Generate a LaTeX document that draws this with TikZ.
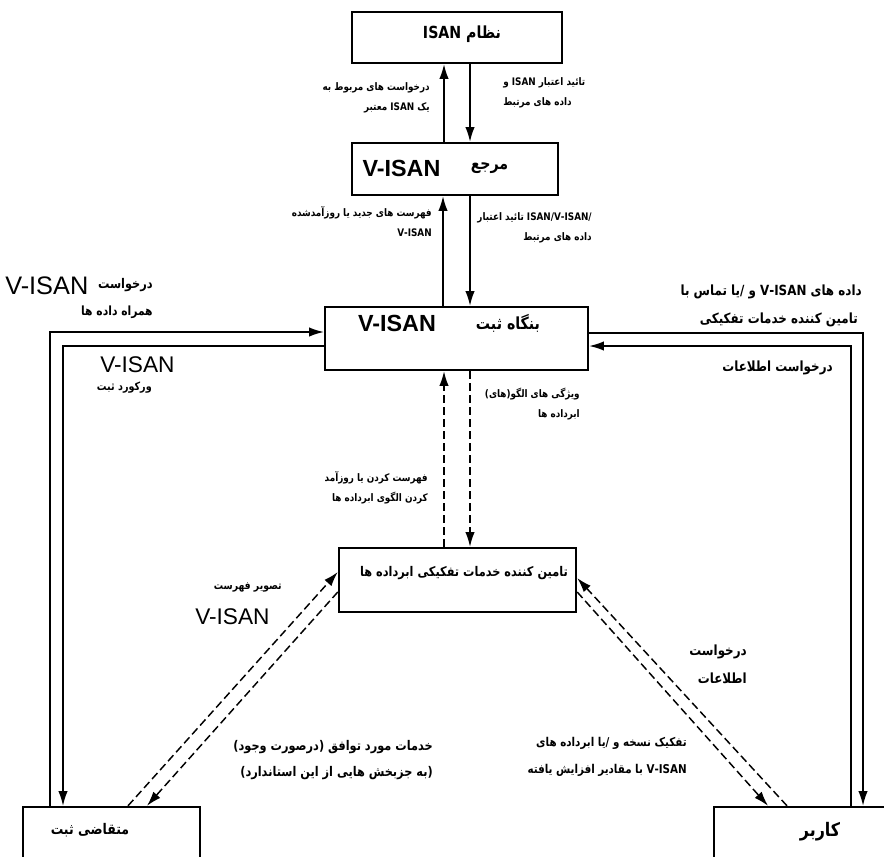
\documentclass[tikz,border=0pt]{standalone}
\usepackage{fontspec}
\newfontfamily\fa[Script=Arabic, FakeStretch=0.85]{DejaVu Sans}
\newfontfamily\lat{Liberation Sans}
\TeXXeTstate=1
\usetikzlibrary{arrows.meta}
\newcommand{\fatxt}[1]{{\beginR #1\endR}}
\tikzset{
  box/.style={draw, line width=1.8pt, inner sep=0pt},
  con/.style={line width=1.1pt},
  arr/.style={-{Latex[length=11pt,width=7pt]}},
  dashline/.style={dash pattern=on 6pt off 3pt},
  lbl/.style={inner sep=0pt, font=\fa\bfseries\fontsize{7.8}{15}\selectfont},
  lblm/.style={inner sep=0pt, font=\fa\bfseries\fontsize{10.5}{21}\selectfont},
  boxlbl/.style={inner sep=0pt, font=\fa\bfseries\fontsize{12.5}{14}\selectfont},
  latb/.style={inner sep=0pt, font=\lat\bfseries\fontsize{17.5}{19}\selectfont},
  latbig/.style={inner sep=0pt, font=\lat\fontsize{17}{19}\selectfont},
}
\begin{document}
\begin{tikzpicture}[x=0.75pt,y=0.75pt,yscale=-1,xscale=1]
\useasboundingbox (0,0) rectangle (884,856);

%Shape: Rectangle
\node[box, minimum width=157.5pt, minimum height=38.25pt] (isan) at (457,37.5) {};
%Shape: Rectangle
\node[box, minimum width=154.5pt, minimum height=39pt] (ref) at (455,169) {};
%Shape: Rectangle
\node[box, minimum width=197.25pt, minimum height=47.25pt] (reg) at (456.5,338.5) {};
%Shape: Rectangle
\node[box, minimum width=177.75pt, minimum height=48pt] (meta) at (457.5,580) {};
%Shape: Rectangle
\node[box, minimum width=132.75pt, minimum height=60pt] (req) at (111.5,847) {};
%Shape: Rectangle
\node[box, minimum width=150pt, minimum height=60pt] (user) at (814,847) {};

% Text Node
\node[boxlbl] (isantxt) at (462,34) {\fatxt{نظام ISAN}};
% Text Node
\node[latb] (refv) at (401.5,168) {V-ISAN};
% Text Node
\node[boxlbl] (reffa) at (489.5,168) {\fatxt{مرجع}};
% Text Node
\node[latb] (regv) at (397,323) {V-ISAN};
% Text Node
\node[boxlbl] (regfa) at (508,323) {\fatxt{بنگاه ثبت}};
% Text Node
\node[boxlbl, font=\fa\bfseries\fontsize{10}{12}\selectfont] (metatxt) at (464,573) {\fatxt{تامین کننده خدمات تفکیکی ابرداده ها}};
% Text Node
\node[boxlbl, font=\fa\bfseries\fontsize{11}{13}\selectfont] (reqtxt) at (90,830) {\fatxt{متقاضی ثبت}};
% Text Node
\node[boxlbl, font=\fa\bfseries\fontsize{14}{16}\selectfont] (usertxt) at (820,832) {\fatxt{کاربر}};

%Straight Lines
\draw[con, arr] (ref.north -| 444,0) -- (isan.south -| 444,0);
%Straight Lines
\draw[con, arr] (isan.south -| 470,0) -- (ref.north -| 470,0);
%Straight Lines
\draw[con, arr] (reg.north -| 443,0) -- (ref.south -| 443,0);
%Straight Lines
\draw[con, arr] (ref.south -| 470,0) -- (reg.north -| 470,0);
%Straight Lines
\draw[con, dashline, arr] (meta.north -| 444,0) -- (reg.south -| 444,0);
%Straight Lines
\draw[con, dashline, arr] (reg.south -| 470,0) -- (meta.north -| 470,0);

%Straight Lines
\draw[con, arr] (req.north -| 50,0) |- (reg.west |- 0,332);
%Straight Lines
\draw[con, arr] (reg.west |- 0,346) -| (req.north -| 63,0);
%Straight Lines
\draw[con, arr] (reg.east |- 0,333) -| (user.north -| 863,0);
%Straight Lines
\draw[con, arr] (user.north -| 851,0) |- (reg.east |- 0,346);

%Straight Lines
\draw[con, dashline, arr] (req.north -| 128,0) -- (meta.west |- 0,572);
%Straight Lines
\draw[con, dashline, arr] (meta.west |- 0,592) -- (req.north -| 147,0);
%Straight Lines
\draw[con, dashline, arr] (user.north -| 787,0) -- (meta.east |- 0,578);
%Straight Lines
\draw[con, dashline, arr] (meta.east |- 0,592) -- (user.north -| 768,0);

% Text Node
\node[lbl, anchor=east, align=right] (q1) at (430,98) {\fatxt{درخواست های مربوط به}\\\fatxt{یک ISAN معتبر}};
% Text Node
\node[lbl, anchor=west, align=left] (q2) at (503,93) {\fatxt{تائید اعتبار ISAN و}\\\fatxt{داده های مرتبط}};
% Text Node
\node[lbl, anchor=east, align=right] (q3) at (432,222) {\fatxt{فهرست های جدید یا روزآمدشده}\\V-ISAN};
% Text Node
\node[lbl, anchor=east, align=right] (q4) at (592,228) {\beginL\fatxt{تائید اعتبار} ISAN/V-ISAN/\endL\\\fatxt{داده های مرتبط}};

% Text Node
\node[latbig, font=\lat\fontsize{19}{21}\selectfont, anchor=west] (vis1) at (5,286) {V-ISAN};
% Text Node
\node[lblm, font=\fa\bfseries\fontsize{10}{21}\selectfont, anchor=east] (dar1) at (153,285) {\fatxt{درخواست}};
% Text Node
\node[lblm, font=\fa\bfseries\fontsize{9.5}{21}\selectfont, anchor=east] (ham1) at (153,312) {\fatxt{همراه داده ها}};
% Text Node
\node[latbig, anchor=west] (vis2) at (100,365) {V-ISAN};
% Text Node
\node[lblm, font=\fa\bfseries\fontsize{8.5}{21}\selectfont, anchor=east] (rec1) at (152,388) {\fatxt{ورکورد ثبت}};

% Text Node
\node[lblm, anchor=east] (dat1) at (862,292) {\fatxt{داده های V-ISAN و /یا تماس با}};
% Text Node
\node[lblm, anchor=east] (tam1) at (858,320) {\fatxt{تامین کننده خدمات تفکیکی}};
% Text Node
\node[lblm, anchor=east] (inf1) at (833,368) {\fatxt{درخواست اطلاعات}};

% Text Node
\node[lbl, anchor=east, align=right] (q5) at (580,404) {\fatxt{ویژگی های الگو(های)}\\\fatxt{ابرداده ها}};
% Text Node
\node[lbl, anchor=east, align=right] (q6) at (428,488) {\fatxt{فهرست کردن یا روزآمد}\\\fatxt{کردن الگوی ابرداده ها}};

% Text Node
\node[lbl, font=\fa\bfseries\fontsize{8.2}{15}\selectfont, anchor=east] (img1) at (282,587) {\fatxt{تصویر فهرست}};
% Text Node
\node[latbig, anchor=west] (vis3) at (195,617) {V-ISAN};
% Text Node
\node[lblm, anchor=east, align=right] (inf2) at (747,664) {\fatxt{درخواست}\\\fatxt{اطلاعات}};
% Text Node
\node[lblm, font=\fa\bfseries\fontsize{10}{19.5}\selectfont, anchor=east, align=right] (srv1) at (433,760) {\fatxt{خدمات مورد توافق (درصورت وجود)}\\\fatxt{(به جزبخش هایی از این استاندارد)}};
% Text Node
\node[lbl, font=\fa\bfseries\fontsize{9.1}{20}\selectfont, anchor=east, align=right] (sep1) at (687,757) {\fatxt{تفکیک نسخه و /یا ابرداده های}\\\fatxt{V-ISAN با مقادیر افزایش یافته}};

\end{tikzpicture}
\end{document}
